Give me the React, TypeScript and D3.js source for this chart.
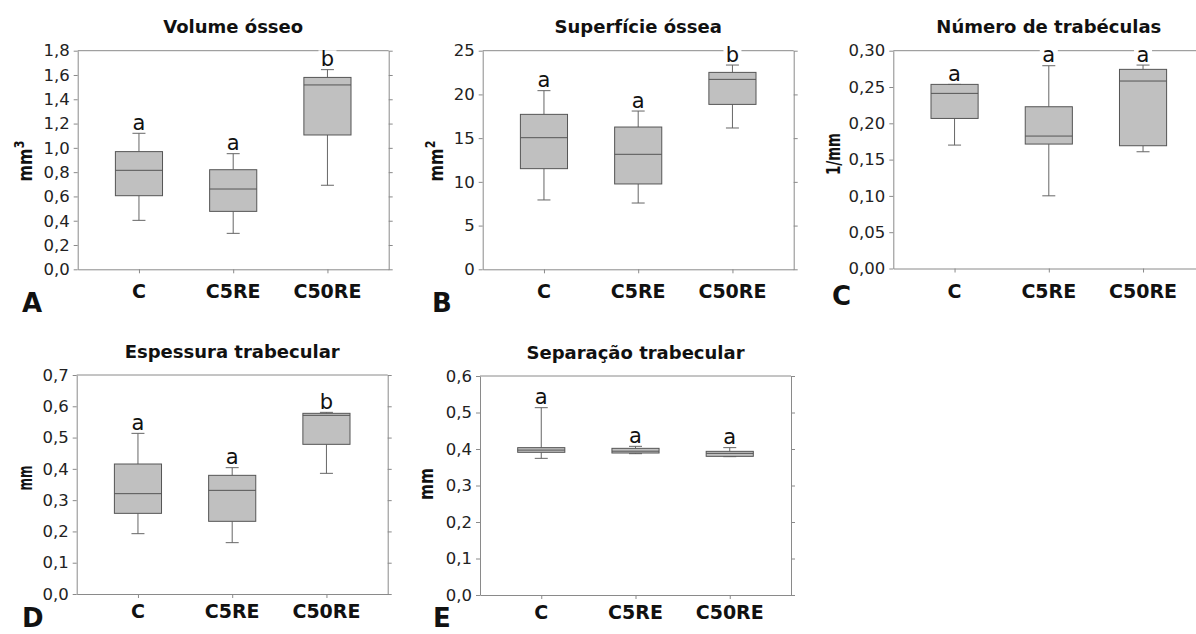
import React, { useRef, useEffect } from 'react';
import * as d3 from 'd3';

const categories = ['C', 'C5RE', 'C50RE'];

// box stats per group: [min, q1, median, q3, max]
const volumeOsseo = [
  [0.403, 0.606, 0.815, 0.969, 1.12],
  [0.296, 0.477, 0.661, 0.82, 0.952],
  [0.692, 1.106, 1.518, 1.58, 1.644],
];
const superficieOssea = [
  [7.93, 11.51, 15.05, 17.72, 20.43],
  [7.58, 9.76, 13.15, 16.27, 18.1],
  [16.16, 18.86, 21.72, 22.52, 23.36],
];
const numeroTrabeculas = [
  [0.17, 0.2067, 0.2412, 0.2536, 0.2536],
  [0.1001, 0.1714, 0.1824, 0.2228, 0.2793],
  [0.1608, 0.1691, 0.2582, 0.2743, 0.2802],
];
const espessuraTrabecular = [
  [0.1928, 0.2578, 0.3207, 0.4155, 0.5135],
  [0.1641, 0.2323, 0.3313, 0.3793, 0.4038],
  [0.3857, 0.4784, 0.571, 0.5775, 0.5806],
];
const separacaoTrabecular = [
  [0.3744, 0.3909, 0.397, 0.4037, 0.5132],
  [0.3872, 0.389, 0.394, 0.4018, 0.4073],
  [0.379, 0.3799, 0.388, 0.3936, 0.4037],
];

// significance letters
const volumeLetters = ['a', 'a', 'b'];
const superficieLetters = ['a', 'a', 'b'];
const numeroLetters = ['a', 'a', 'a'];
const espessuraLetters = ['a', 'a', 'b'];
const separacaoLetters = ['a', 'a', 'a'];

// y ticks
const volumeTicks = [0, 0.2, 0.4, 0.6, 0.8, 1.0, 1.2, 1.4, 1.6, 1.8];
const superficieTicks = [0, 5, 10, 15, 20, 25];
const numeroTicks = [0, 0.05, 0.1, 0.15, 0.2, 0.25, 0.3];
const espessuraTicks = [0, 0.1, 0.2, 0.3, 0.4, 0.5, 0.6, 0.7];
const separacaoTicks = [0, 0.1, 0.2, 0.3, 0.4, 0.5, 0.6];

const W = 1196;
const H = 634;

const panels = [
  { id: 'A', title: 'Volume ósseo', stats: volumeOsseo, letters: volumeLetters, ticks: volumeTicks, decimals: 1,
    yLabel: 'mm', sup: '3', left: 77.7, top: 50.7, bottom: 269.3, labelX: 31.5, labelY: 161, labelLen: 41,
    xLabelDy: 29, letterX: 22, letterY: 312 },
  { id: 'B', title: 'Superfície óssea', stats: superficieOssea, letters: superficieLetters, ticks: superficieTicks, decimals: 0,
    yLabel: 'mm', sup: '2', left: 482.7, top: 50.7, bottom: 269.3, labelX: 443, labelY: 161, labelLen: 41,
    xLabelDy: 29, letterX: 432, letterY: 312 },
  { id: 'C', title: 'Número de trabéculas', stats: numeroTrabeculas, letters: numeroLetters, ticks: numeroTicks, decimals: 2,
    yLabel: '1/mm', sup: '', left: 893.3, top: 50.7, bottom: 268.5, labelX: 840, labelY: 154, labelLen: 42,
    xLabelDy: 29, letterX: 832, letterY: 305 },
  { id: 'D', title: 'Espessura trabecular', stats: espessuraTrabecular, letters: espessuraLetters, ticks: espessuraTicks, decimals: 1,
    yLabel: 'mm', sup: '', left: 76.7, top: 375, bottom: 594, labelX: 31.7, labelY: 478, labelLen: 25,
    xLabelDy: 24, letterX: 22, letterY: 627 },
  { id: 'E', title: 'Separação trabecular', stats: separacaoTrabecular, letters: separacaoLetters, ticks: separacaoTicks, decimals: 1,
    yLabel: 'mm', sup: '', left: 480, top: 376, bottom: 595, labelX: 433.3, labelY: 484, labelLen: 32,
    xLabelDy: 24, letterX: 433, letterY: 627 },
];

const PLOT_W = 311;
const FRAME = '#8a8a8a';
const DARK = '#555555';

const BoxPanels = () => {
  const ref = useRef<SVGSVGElement>(null);

  useEffect(() => {
    const svg = d3.select(ref.current);
    svg.selectAll('*').remove();
    svg.append('rect').attr('width', W).attr('height', H).attr('fill', '#fff');

    panels.forEach((p) => {
      const right = p.left + PLOT_W;
      const yMax = p.ticks[p.ticks.length - 1];
      const y = d3.scaleLinear().domain([0, yMax]).range([p.bottom, p.top]);
      const x = d3.scaleLinear().domain([0.35, 3.65]).range([p.left, right]);
      const fmt = (v: number) => d3.format(`.${p.decimals}f`)(v).replace('.', ',');
      const g = svg.append('g');

      // left axis with labels
      const la = g.append('g')
        .attr('transform', `translate(${p.left},0)`)
        .call(d3.axisLeft(y).tickValues(p.ticks).tickFormat(fmt as any).tickSize(4).tickSizeOuter(0).tickPadding(4));
      la.selectAll('text')
        .attr('font-family', 'DejaVu Sans, sans-serif')
        .attr('font-size', 16.5)
        .attr('fill', '#222');

      // right axis, ticks only
      g.append('g')
        .attr('transform', `translate(${right},0)`)
        .call(d3.axisRight(y).tickValues(p.ticks).tickFormat(() => '').tickSize(4).tickSizeOuter(0));

      // bottom axis
      g.append('g')
        .attr('transform', `translate(0,${p.bottom})`)
        .call(d3.axisBottom(x).tickValues([1, 2, 3]).tickFormat(() => '').tickSize(4).tickSizeOuter(0));

      // top frame line
      g.append('line')
        .attr('x1', p.left).attr('x2', right)
        .attr('y1', p.top).attr('y2', p.top)
        .attr('stroke', FRAME);

      g.selectAll('.domain, .tick line').attr('stroke', FRAME);

      // category labels
      categories.forEach((c, i) => {
        g.append('text')
          .attr('x', x(i + 1))
          .attr('y', p.bottom + p.xLabelDy)
          .attr('text-anchor', 'middle')
          .attr('font-family', 'DejaVu Sans, sans-serif')
          .attr('font-weight', 'bold')
          .attr('font-size', 19)
          .attr('fill', '#111')
          .text(c);
      });

      // boxes
      const bw = x(1.25) - x(0.75);
      const cw = 13;
      p.stats.forEach((s, i) => {
        const cx = x(i + 1);
        const b = g.append('g');
        b.append('line').attr('x1', cx).attr('x2', cx).attr('y1', y(s[3])).attr('y2', y(s[4])).attr('stroke', '#666');
        b.append('line').attr('x1', cx).attr('x2', cx).attr('y1', y(s[1])).attr('y2', y(s[0])).attr('stroke', '#666');
        b.append('line').attr('x1', cx - cw / 2).attr('x2', cx + cw / 2).attr('y1', y(s[4])).attr('y2', y(s[4])).attr('stroke', '#666');
        b.append('line').attr('x1', cx - cw / 2).attr('x2', cx + cw / 2).attr('y1', y(s[0])).attr('y2', y(s[0])).attr('stroke', '#666');
        b.append('rect')
          .attr('x', cx - bw / 2)
          .attr('y', y(s[3]))
          .attr('width', bw)
          .attr('height', y(s[1]) - y(s[3]))
          .attr('fill', '#c0c0c0')
          .attr('stroke', DARK);
        b.append('line').attr('x1', cx - bw / 2).attr('x2', cx + bw / 2).attr('y1', y(s[2])).attr('y2', y(s[2])).attr('stroke', DARK);

        // letter above whisker, white background
        const ly = y(s[4]) - 3.3;
        g.append('rect')
          .attr('x', cx - 9).attr('y', ly - 16)
          .attr('width', 18).attr('height', 16)
          .attr('fill', '#fff');
        g.append('text')
          .attr('x', cx)
          .attr('y', ly)
          .attr('text-anchor', 'middle')
          .attr('font-family', 'DejaVu Sans, sans-serif')
          .attr('font-size', 21)
          .attr('fill', '#111')
          .text(p.letters[i]);
      });

      // title
      g.append('text')
        .attr('x', p.left + PLOT_W / 2)
        .attr('y', p.top - 17.5)
        .attr('text-anchor', 'middle')
        .attr('font-family', 'DejaVu Sans, sans-serif')
        .attr('font-weight', 'bold')
        .attr('font-size', 18)
        .attr('fill', '#111')
        .text(p.title);

      // y label
      const yl = g.append('text')
        .attr('transform', `translate(${p.labelX},${p.labelY}) rotate(-90)`)
        .attr('text-anchor', 'middle')
        .attr('font-family', 'DejaVu Sans, sans-serif')
        .attr('font-weight', 'bold')
        .attr('font-size', 20)
        .attr('fill', '#111')
        .attr('textLength', p.labelLen)
        .attr('lengthAdjust', 'spacingAndGlyphs');
      yl.append('tspan').text(p.yLabel);
      if (p.sup) {
        yl.append('tspan').attr('dy', -8).attr('font-size', 14).text(p.sup);
      }

      // panel letter
      svg.append('text')
        .attr('x', p.letterX)
        .attr('y', p.letterY)
        .attr('font-family', 'DejaVu Sans, sans-serif')
        .attr('font-weight', 'bold')
        .attr('font-size', 26)
        .attr('fill', '#111')
        .text(p.id);
    });
  }, []);

  return (
    <svg
      ref={ref}
      width={W}
      height={H}
      style={{ position: 'absolute', left: 0, top: 0, overflow: 'hidden' }}
    />
  );
};

export default function App() {
  return <BoxPanels />;
}
